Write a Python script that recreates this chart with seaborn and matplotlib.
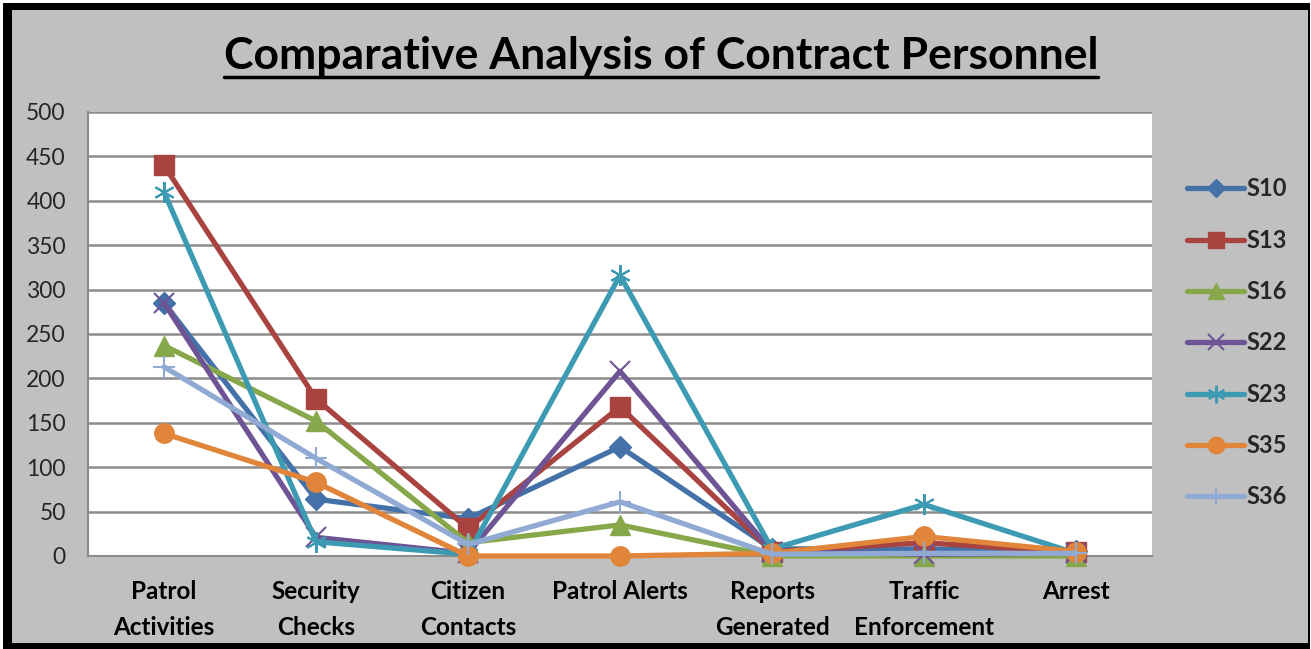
import matplotlib
matplotlib.use("Agg")
import matplotlib.pyplot as plt
import seaborn as sns
import pandas as pd
from matplotlib.patches import Rectangle
from matplotlib.lines import Line2D

categories = ["Patrol\nActivities", "Security\nChecks", "Citizen\nContacts", "Patrol Alerts",
              "Reports\nGenerated", "Traffic\nEnforcement", "Arrest"]
series_names = ["S10", "S13", "S16", "S22", "S23", "S35", "S36"]
S10 = [285, 64, 42, 123, 8, 8, 6]
S13 = [440, 177, 31, 168, 5, 15, 4]
S16 = [237, 152, 15, 35, 0, 0, 0]
S22 = [285, 21, 3, 208, 5, 2, 3]
S23 = [410, 16, 2, 316, 8, 58, 3]
S35 = [138, 83, 0, 0, 3, 22, 5]
S36 = [213, 110, 13, 61, 2, 3, 3]
yticks = [0, 50, 100, 150, 200, 250, 300, 350, 400, 450, 500]
title = "Comparative Analysis of Contract Personnel"

values = [S10, S13, S16, S22, S23, S35, S36]
colors = ["#4472A8", "#A9433F", "#87A84A", "#6E5494", "#3C9AB2", "#E0853A", "#90AAD3"]
markers = ["D", "s", "^", "x", (6, 2, 0), "o", "+"]
msizes = [11, 14, 14, 14, 15, 14, 16]
mews = [1, 1, 1, 1.5, 1.5, 1, 1.5]

rows = []
for name, vals in zip(series_names, values):
    for c, v in zip(categories, vals):
        rows.append({"category": c, "value": v, "series": name})
df = pd.DataFrame(rows)

sns.set_style("white")
plt.rcParams["font.family"] = ["Lato", "DejaVu Sans"]

W, H = 1311, 649
fig = plt.figure(figsize=(W / 100, H / 100), dpi=100)
fig.patch.set_facecolor("white")
fig.add_artist(Rectangle((3 / W, 0), (1310 - 3) / W, 646 / H, transform=fig.transFigure,
                         facecolor="black", edgecolor="none", zorder=-10))
fig.add_artist(Rectangle((12 / W, 6 / H), (1308 - 12) / W, (639 - 6) / H, transform=fig.transFigure,
                         facecolor="#C0C0C0", edgecolor="none", zorder=-9))

ax = fig.add_axes([88 / W, 1 - 556 / H, (1152 - 88) / W, (556 - 112) / H])
ax.set_facecolor("white")

for i, name in enumerate(series_names):
    sub = df[df["series"] == name]
    sns.lineplot(data=sub, x="category", y="value", ax=ax, sort=False, color=colors[i],
                 linewidth=3.8, marker=markers[i], markersize=msizes[i],
                 markeredgecolor=colors[i], markerfacecolor=colors[i], markeredgewidth=mews[i],
                 label=name, legend=False, zorder=3 + i, clip_on=False)

ax.set_xlim(-0.5, len(categories) - 0.5)
ax.set_ylim(0, 500)
ax.set_yticks(yticks)
ax.set_xticks(range(len(categories)))
ax.set_xticklabels(categories, fontsize=17.5, fontweight="bold", linespacing=1.68)
ax.set_xticks([i - 0.5 for i in range(len(categories) + 1)], minor=True)
ax.tick_params(axis="x", which="major", length=0, pad=17, colors="black")
ax.tick_params(axis="x", which="minor", length=7, width=1.5, color="#8C8C8C", direction="out")
ax.tick_params(axis="y", length=7, width=1.5, color="#8C8C8C", labelsize=16.5, pad=9, direction="out")
ax.set_xlabel("")
ax.set_ylabel("")
ax.grid(axis="y", color="#8C8C8C", linewidth=1.8)
ax.set_axisbelow(True)
for s in ["top", "right"]:
    ax.spines[s].set_visible(False)
for s in ["left", "bottom"]:
    ax.spines[s].set_color("#8C8C8C")
    ax.spines[s].set_linewidth(1.5)

handles = [Line2D([], [], color=colors[i], linewidth=3.8, marker=markers[i],
                  markersize=msizes[i] * 0.85, markeredgewidth=mews[i],
                  markerfacecolor=colors[i], markeredgecolor=colors[i]) for i in range(len(series_names))]
leg = fig.legend(handles, series_names, loc="center left", bbox_to_anchor=(1166 / W, 1 - 343 / H),
                 frameon=False, handlelength=2.4, handletextpad=0.1, labelspacing=1.2,
                 prop={"size": 17, "weight": "bold"})

t = fig.text(661 / W, 1 - 56 / H, title, ha="center", va="center", fontsize=32,
             fontweight="bold", color="black")
fig.canvas.draw()
bb = t.get_window_extent()
yline = bb.y0 - 1
fig.add_artist(Line2D([bb.x0 / W, bb.x1 / W], [yline / H, yline / H], transform=fig.transFigure,
                      color="black", linewidth=2.5))

fig.savefig("out.png", dpi=100, facecolor=fig.get_facecolor())
